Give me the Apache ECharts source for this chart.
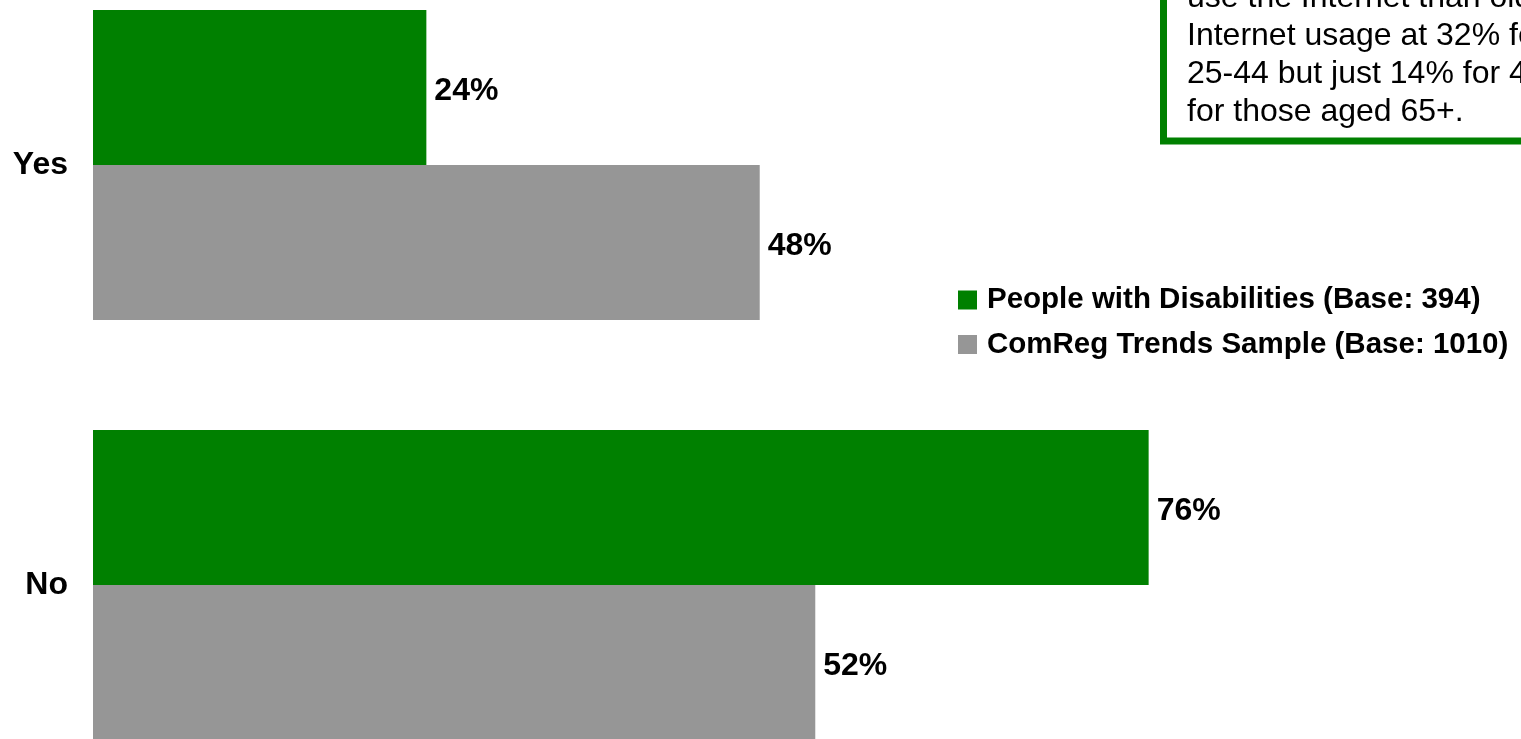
<!DOCTYPE html>
<html>
<head>
<meta charset="utf-8">
<script src="https://cdn.jsdelivr.net/npm/echarts@6/dist/echarts.min.js"></script>
<style>
  html, body { margin: 0; padding: 0; background: #ffffff; overflow: hidden; }
  /* The chart canvas is taller than the window and shifted up so the bars run off both edges */
  #chart { position: absolute; left: 0; top: -100px; width: 1521px; height: 1000px; }
</style>
</head>
<body>
<div id="chart"></div>
<script>
// Answer categories (top to bottom)
const categories = ['Yes', 'No'];

// Series names and their shares (%)
const seriesNames = [
  'People with Disabilities (Base: 394)',
  'ComReg Trends Sample (Base: 1010)'
];
const disabilitiesValues = [24, 76];
const trendsValues = [48, 52];

// Commentary lines in the callout box
const noteLines = [
  'use the Internet than older',
  'Internet usage at 32% for',
  '25-44 but just 14% for 45',
  'for those aged 65+.'
];

const FONT = '"Liberation Sans", Arial, sans-serif';
const GREEN = '#008000';
const GREY = '#969696';
const OFFSET = 100; // vertical shift of the canvas inside the window

const chart = echarts.init(document.getElementById('chart'), null, { renderer: 'canvas' });

const labelStyle = {
  show: true,
  position: 'right',
  distance: 8,
  offset: [0, 4],
  formatter: '{c}%',
  color: '#000',
  fontFamily: FONT,
  fontWeight: 'bold',
  fontSize: 32
};

chart.setOption({
  animation: false,
  backgroundColor: '#ffffff',
  grid: { left: 93, top: OFFSET - 45, width: 1389, height: 840, containLabel: false },
  xAxis: {
    type: 'value',
    min: 0,
    max: 100,
    show: false
  },
  yAxis: {
    type: 'category',
    data: categories,
    inverse: true,
    axisLine: { show: false },
    axisTick: { show: false },
    axisLabel: {
      margin: 25,
      color: '#000',
      fontFamily: FONT,
      fontWeight: 'bold',
      fontSize: 32
    }
  },
  legend: {
    orient: 'vertical',
    left: 958,
    top: OFFSET + 285,
    padding: 0,
    icon: 'rect',
    itemWidth: 19,
    itemHeight: 19,
    itemGap: 14.5,
    data: seriesNames,
    textStyle: {
      color: '#000',
      fontFamily: FONT,
      fontWeight: 'bold',
      fontSize: 29.5,
      padding: [0, 0, 0, 5]
    }
  },
  series: [
    {
      name: seriesNames[0],
      type: 'bar',
      data: disabilitiesValues,
      barWidth: 155,
      barGap: '0%',
      itemStyle: { color: GREEN },
      label: labelStyle
    },
    {
      name: seriesNames[1],
      type: 'bar',
      data: trendsValues,
      barWidth: 155,
      barGap: '0%',
      itemStyle: { color: GREY },
      label: labelStyle
    }
  ],
  graphic: [
    {
      type: 'rect',
      shape: { x: 1163.5, y: OFFSET - 300, width: 700, height: 441 },
      style: { fill: '#ffffff', stroke: GREEN, lineWidth: 7 },
      z: 10
    },
    {
      type: 'text',
      left: 1187,
      top: OFFSET - 21,
      z: 11,
      style: {
        text: noteLines.join('\n'),
        fill: '#000',
        font: '32px ' + FONT,
        lineHeight: 38
      }
    }
  ]
});
</script>
</body>
</html>
